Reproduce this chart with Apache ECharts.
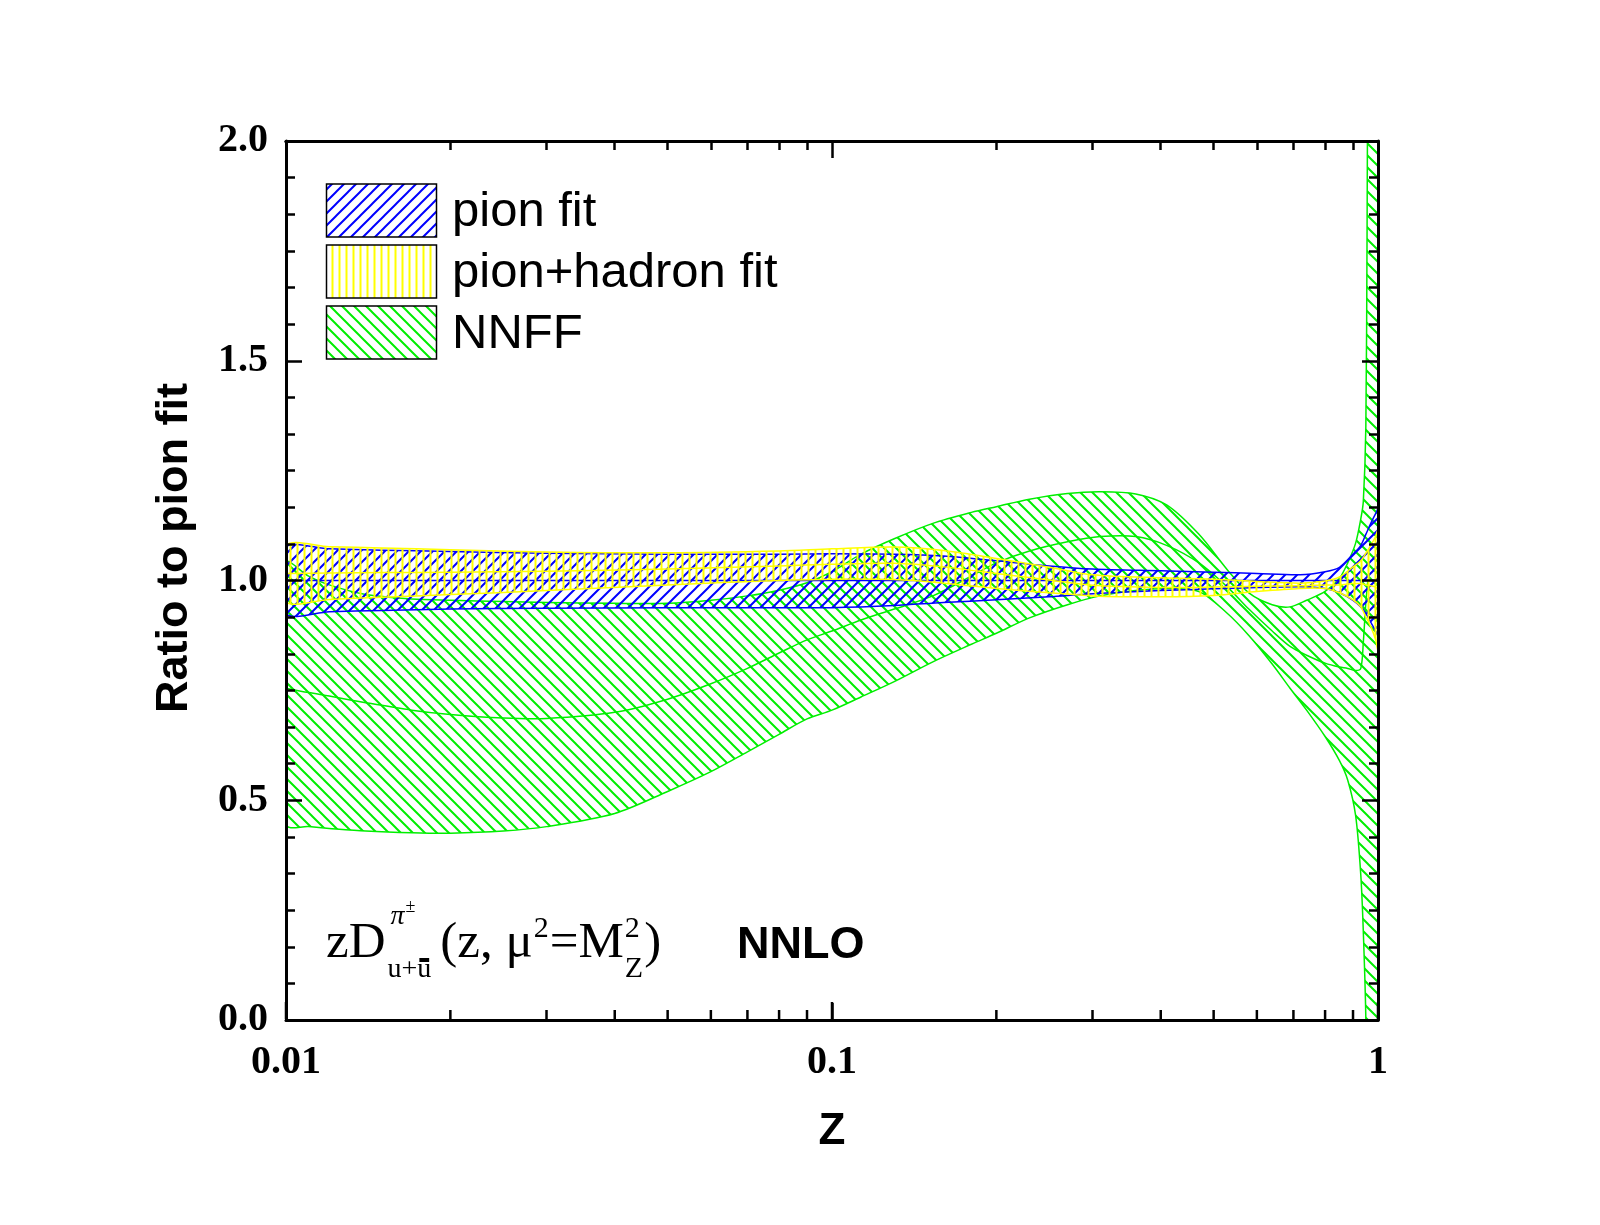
<!DOCTYPE html>
<html><head><meta charset="utf-8">
<script src="https://cdn.jsdelivr.net/npm/echarts@6/dist/echarts.min.js"></script>
<style>html,body{margin:0;padding:0;background:#fff}#c{width:1600px;height:1225px}</style>
</head><body><div id="c"></div>
<script>
// ---------------- data ----------------
const xTickValues = [0.01, 0.1, 1];
const xTickLabels = ['0.01', '0.1', '1'];
const xMinorTicks = [0.02,0.03,0.04,0.05,0.06,0.07,0.08,0.09,0.2,0.3,0.4,0.5,0.6,0.7,0.8,0.9];
const yTickLabels = ['0.0', '0.5', '1.0', '1.5', '2.0'];

// NNFF band
const zG = [0.01,0.011,0.012,0.014,0.017,0.02,0.025,0.03,0.04,0.05,0.06,0.07,0.08,0.09,0.1,0.113,0.13,0.153,0.18,0.2,0.23,0.27,0.31,0.36,0.41,0.47,0.53,0.58,0.64,0.69,0.74,0.8,0.85,0.88,0.91,0.93,0.94,0.95,0.955,0.96,0.98,1.0];
const greenUpper = [1.04,1.01,0.99,0.968,0.958,0.955,0.952,0.95,0.948,0.948,0.955,0.965,0.978,0.995,1.02,1.06,1.095,1.13,1.155,1.168,1.185,1.198,1.202,1.197,1.172,1.105,1.024,0.972,0.945,0.94,0.955,0.975,1.005,1.04,1.085,1.14,1.18,1.35,1.8,2.3,2.8,3.0];
const greenCenter = [0.755,0.745,0.737,0.722,0.705,0.695,0.687,0.686,0.70,0.73,0.765,0.80,0.835,0.865,0.885,0.91,0.935,0.965,1.01,1.04,1.067,1.088,1.1,1.1,1.08,1.04,0.985,0.935,0.885,0.85,0.83,0.812,0.803,0.8,0.795,0.8,0.86,0.95,0.98,1.0,1.0,1.0];
const greenLower = [0.445,0.44,0.436,0.43,0.426,0.425,0.43,0.44,0.47,0.52,0.565,0.61,0.65,0.685,0.705,0.735,0.77,0.815,0.855,0.88,0.915,0.945,0.965,0.977,0.982,0.975,0.925,0.875,0.81,0.755,0.705,0.645,0.59,0.546,0.465,0.33,0.2,0.0,-0.5,-1,-1,-1];

// pion fit band and pion+hadron fit band (shared z grid)
const zB = [0.01,0.012,0.015,0.02,0.03,0.05,0.08,0.1,0.13,0.16,0.2,0.25,0.3,0.4,0.5,0.6,0.72,0.8,0.85,0.9,0.93,0.95,0.97,0.99,1.0];
const blueUpper = [1.075,1.072,1.069,1.066,1.062,1.06,1.06,1.061,1.06,1.056,1.045,1.033,1.026,1.022,1.019,1.016,1.013,1.02,1.03,1.06,1.08,1.105,1.13,1.152,1.162];
const blueCenter = [1,1,1,1,1,1,1,1,1,1,1,1,1,1,1,1,1,1,1,1,1,1,1,1,1];
const blueLower = [0.925,0.929,0.932,0.935,0.937,0.938,0.938,0.938,0.943,0.95,0.956,0.963,0.97,0.977,0.981,0.984,0.986,0.982,0.972,0.955,0.94,0.925,0.905,0.885,0.875];

const yellowUpper = [1.08,1.077,1.074,1.07,1.065,1.063,1.067,1.072,1.076,1.068,1.05,1.03,1.013,1.006,1.003,0.998,0.994,0.999,1.008,1.031,1.045,1.062,1.08,1.1,1.115];
const yellowCenter = [1.016,1.017,1.018,1.019,1.021,1.026,1.033,1.037,1.039,1.031,1.016,1.001,0.989,0.984,0.985,0.987,0.988,0.99,0.99,0.993,0.993,0.99,0.988,0.985,0.98];
const yellowLower = [0.952,0.957,0.962,0.968,0.977,0.99,1.0,1.003,1.002,0.994,0.982,0.972,0.965,0.963,0.966,0.975,0.982,0.982,0.972,0.956,0.94,0.917,0.895,0.865,0.841];

const legendNames = ['pion fit', 'pion+hadron fit', 'NNFF'];

// ---------------- styling ----------------
const SERIF = '"Liberation Serif", "Times New Roman", serif';
const SANS = '"Liberation Sans", Arial, sans-serif';
const BLUE = '#0000ff', YELLOW = '#ffff00', GREEN = '#00ee00';

function hatch(color, kind) {
  const c = document.createElement('canvas');
  const s = kind === '|' ? 7 : 12;
  c.width = s; c.height = s;
  const g = c.getContext('2d');
  g.strokeStyle = color; g.fillStyle = color; g.lineWidth = 2;
  if (kind === '|') {
    g.fillRect(2.5, 0, 2, s);
  } else if (kind === '/') {
    g.beginPath();
    g.moveTo(0, s); g.lineTo(s, 0);
    g.moveTo(-2, 2); g.lineTo(2, -2);
    g.moveTo(s - 2, s + 2); g.lineTo(s + 2, s - 2);
    g.stroke();
  } else {
    g.beginPath();
    g.moveTo(0, 0); g.lineTo(s, s);
    g.moveTo(-2, s - 2); g.lineTo(2, s + 2);
    g.moveTo(s - 2, -2); g.lineTo(s + 2, 2);
    g.stroke();
  }
  return { image: c, repeat: 'repeat' };
}
const patBlue = hatch(BLUE, '/');
const patYellow = hatch(YELLOW, '|');
const patGreen = hatch(GREEN, '\\');

// bottom-edge x tick segments, placed through the chart's x scale
function bottomTickChildren(api) {
  return xTickValues.concat(xMinorTicks).map(v => {
    const p = api.coord([v, 0]);
    const len = xTickValues.indexOf(v) >= 0 ? 17 : 9;
    return { type: 'line', shape: { x1: p[0], y1: p[1] - 1, x2: p[0], y2: p[1] - 1 - len },
      style: { stroke: '#000', lineWidth: 2.5 } };
  });
}

function bandSeries(name, z, lo, up, ce, color, pattern, withTicks) {
  return {
    type: 'custom', name: name, xAxisIndex: 0, yAxisIndex: 0, silent: true, clip: false,
    data: z.map((x, i) => [x, lo[i], up[i], ce[i]]),
    encode: { x: 0, y: [1, 2, 3] },
    renderItem: function (params, api) {
      if (params.dataIndex !== 0) return null;
      const U = [], L = [], C = [];
      for (let i = 0; i < z.length; i++) {
        U.push(api.coord([z[i], up[i]]));
        L.push(api.coord([z[i], lo[i]]));
        C.push(api.coord([z[i], ce[i]]));
      }
      const poly = U.concat(L.slice().reverse());
      const cs = params.coordSys;
      const clipRect = { type: 'group', clipPath: { type: 'rect', shape: { x: cs.x, y: cs.y, width: cs.width, height: cs.height } },
        children: [
          { type: 'polygon', shape: { points: poly, smooth: 0.3 },
            style: { fill: pattern, stroke: color, lineWidth: 1.5 } },
          { type: 'polyline', shape: { points: C, smooth: 0.3 },
            style: { fill: null, stroke: color, lineWidth: 1.5 } }
        ] };
      const children = [clipRect];
      if (withTicks) children.push.apply(children, bottomTickChildren(api));
      return { type: 'group', children: children };
    }
  };
}

const AXL = { color: '#000', width: 3 };
const TKL = { color: '#000', width: 2.5 };
const tickLabelStyle = { color: '#000', fontFamily: SERIF, fontWeight: 'bold', fontSize: 40 };
const nameStyle = { color: '#000', fontFamily: SANS, fontWeight: 'bold', fontSize: 44 };

// main bottom axis: line, labels, title
const xBottom = { type: 'log', logBase: 10, gridIndex: 0, min: xTickValues[0], max: xTickValues[2],
  position: 'bottom', z: 10,
  axisLine: { show: true, onZero: false, lineStyle: AXL },
  axisTick: { show: true, inside: true, length: 17, lineStyle: TKL }, minorTick: { show: false },
  axisLabel: Object.assign({ show: true, margin: 23,
    formatter: v => xTickLabels[Math.round(Math.log10(v)) + 2] }, tickLabelStyle),
  splitLine: { show: false },
  name: 'Z', nameLocation: 'middle', nameGap: 90, nameTextStyle: nameStyle };
function xTicks(gi, kind) {
  const base = { gridIndex: gi, position: 'top', z: 10,
    axisLine: { show: true, onZero: false, lineStyle: AXL },
    axisLabel: { show: false }, splitLine: { show: false }, minorTick: { show: false } };
  if (kind === 'major') {
    return Object.assign(base, { type: 'log', logBase: 10, min: xTickValues[0], max: xTickValues[2],
      axisTick: { show: true, inside: true, length: 17, lineStyle: TKL } });
  }
  return Object.assign(base, { type: 'value', min: Math.log10(xTickValues[0]), max: Math.log10(xTickValues[2]),
    axisTick: { show: true, inside: true, length: 9, lineStyle: TKL, customValues: xMinorTicks.map(v => Math.log10(v)) } });
}
function yAx(pos, labels) {
  return { type: 'value', gridIndex: 0, min: 0, max: 2, interval: 0.5, position: pos, z: 10,
    axisLine: { show: true, onZero: false, lineStyle: AXL },
    axisTick: { show: true, inside: true, length: 16, lineStyle: TKL },
    minorTick: { show: true, splitNumber: 6, length: 9, lineStyle: TKL },
    axisLabel: labels ? Object.assign({ show: true, margin: 18,
      formatter: v => yTickLabels[Math.round(v / 0.5)] }, tickLabelStyle) : { show: false },
    splitLine: { show: false }, minorSplitLine: { show: false } };
}
function yHidden(gi) {
  return { type: 'value', gridIndex: gi, min: 0, max: 2, position: 'left', show: false,
    axisLine: { show: false, onZero: false }, axisTick: { show: false }, axisLabel: { show: false },
    splitLine: { show: false } };
}

// ---------------- annotation layout ----------------
const mctx = document.createElement('canvas').getContext('2d');
function tw(t, size, fam, style, weight) {
  mctx.font = (style || 'normal') + ' ' + (weight || 'normal') + ' ' + size + 'px ' + (fam || SERIF);
  return mctx.measureText(t).width;
}
const graphics = [];
function addText(t, x, baseline, size, fam, style, weight) {
  fam = fam || SERIF;
  const k = fam === SERIF ? 0.3375 : 0.3465;
  graphics.push({ type: 'text', z: 20, style: { text: t, x: x, y: baseline - k * size,
    fontFamily: fam, fontSize: size, fontStyle: style || 'normal', fontWeight: weight || 'normal',
    fill: '#000', align: 'left', verticalAlign: 'middle' } });
}
// y axis title
graphics.push({ type: 'text', z: 20, x: 175, y: 548, rotation: Math.PI / 2,
  style: { text: 'Ratio to pion fit', fontFamily: SANS, fontWeight: 'bold', fontSize: 45, fill: '#000',
    align: 'center', verticalAlign: 'middle' } });
// legend
const legPats = [patBlue, patYellow, patGreen];
const legY = [184, 245, 306];
legendNames.forEach((n, i) => {
  graphics.push({ type: 'rect', z: 20, shape: { x: 326.5, y: legY[i], width: 110, height: 53 },
    style: { fill: legPats[i], stroke: '#000', lineWidth: 1.5 } });
  graphics.push({ type: 'text', z: 20, style: { text: n, x: 452, y: legY[i] + 28, fontFamily: SANS, fontSize: 49,
    fill: '#000', align: 'left', verticalAlign: 'middle' } });
});
// formula
const B = 961, FS = 51, FSS = 30;
let x = 326;
addText('zD', x, B, FS);
x += tw('zD', FS) + 2;
const xb = x;
addText('\u03C0', xb + 3, B - 35, 28, SERIF, 'italic');
addText('\u00B1', xb + 3 + tw('\u03C0', 28, SERIF, 'italic') + 1, B - 48, 18);
addText('u+u', xb, B + 18, 28);
const ux = xb + tw('u+', 28), uw = tw('u', 28);
graphics.push({ type: 'rect', z: 20, shape: { x: ux + uw * 0.15, y: B - 3, width: uw * 0.7, height: 4 }, style: { fill: '#000' } });
x = xb + Math.max(tw('u+u', 28), tw('\u03C0', 28) + tw('\u00B1', 18)) + 9;
addText('(z, \u03BC', x, B, FS); x += tw('(z, \u03BC', FS) + 1;
addText('2', x, B - 22, FSS); x += tw('2', FSS) + 1;
addText('=M', x, B, FS); x += tw('=M', FS) + 1;
addText('2', x, B - 22, FSS); addText('Z', x, B + 18, FSS); x += tw('Z', FSS) + 1;
addText(')', x, B, FS);
graphics.push({ type: 'text', z: 20, style: { text: 'NNLO', x: 737, y: 946, fontFamily: SANS, fontWeight: 'bold',
  fontSize: 45, fill: '#000', align: 'left', verticalAlign: 'middle' } });

// ---------------- chart ----------------
const gridMain = { left: 286, top: 141, right: 222, bottom: 205, containLabel: false };
const chart = echarts.init(document.getElementById('c'), null, { renderer: 'canvas' });
chart.setOption({
  animation: false,
  backgroundColor: '#fff',
  grid: [Object.assign({}, gridMain), Object.assign({}, gridMain), Object.assign({}, gridMain)],
  xAxis: [xBottom, xTicks(1, 'major'), xTicks(2, 'minor')],
  yAxis: [yAx('left', true), yAx('right', false), yHidden(1), yHidden(2)],
  series: [
    bandSeries(legendNames[2], zG, greenLower, greenUpper, greenCenter, GREEN, patGreen, false),
    bandSeries(legendNames[0], zB, blueLower, blueUpper, blueCenter, BLUE, patBlue, false),
    bandSeries(legendNames[1], zB, yellowLower, yellowUpper, yellowCenter, YELLOW, patYellow, true)
  ],
  graphic: graphics
});
</script>
</body></html>
